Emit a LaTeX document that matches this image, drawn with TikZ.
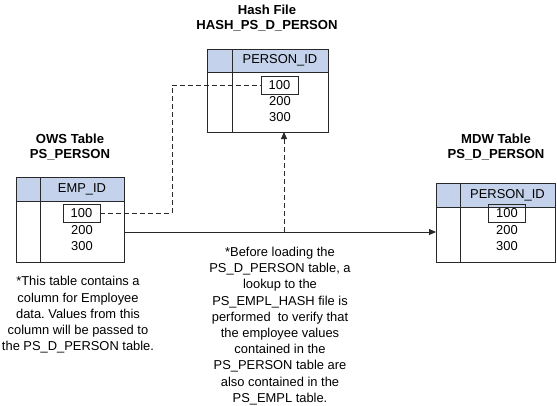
\documentclass[tikz,border=0pt]{standalone}
\usepackage{fontspec}
\setmainfont{Liberation Sans}
\frenchspacing
\usetikzlibrary{arrows.meta}
\definecolor{hdr}{RGB}{197,210,235}
\definecolor{ln}{RGB}{40,40,40}
\begin{document}
\begin{tikzpicture}[x=1pt,y=-1pt,
  every node/.style={font=\fontsize{12.9}{16.2}\selectfont, inner sep=0pt},
  ttl/.style={font=\fontsize{13.1}{15.5}\selectfont\bfseries, align=center},
  note/.style={align=center},
  frame/.style={draw=ln, line width=0.9pt},
  valbox/.style={draw=ln, line width=0.9pt, minimum width=37pt, minimum height=18pt},
  conn/.style={ln, line width=0.9pt},
  dconn/.style={ln, line width=0.9pt, dash pattern=on 5pt off 3pt},
  tip/.style={-{Triangle[length=7pt,width=6pt]}}
]
\useasboundingbox (0,0) rectangle (557,405);

% ---------- OWS table
\fill[hdr] (16,177) rectangle (124,201);
\draw[frame] (16,177) rectangle (124,262);
\draw[frame] (16,201) -- (124,201);
\draw[frame] (40,177) -- (40,262);
\node (owsT) [ttl] at (70,147) {OWS Table\\PS\_PERSON};
\node (owsH) at (82,189) {EMP\_ID};
\node (ows1) [valbox] at (81.5,213) {100};
\node (ows2) at (82,230) {200};
\node (ows3) at (82,246) {300};
\coordinate (owsE) at (124,232);

% ---------- Hash table
\fill[hdr] (207,49) rectangle (328,72);
\draw[frame] (207,49) rectangle (328,132);
\draw[frame] (207,72) -- (328,72);
\draw[frame] (232,49) -- (232,132);
\node (hT) [ttl] at (267,18) {Hash File\\HASH\_PS\_D\_PERSON};
\node (hH) at (280,60) {PERSON\_ID};
\node (h1) [valbox] at (279.5,85) {100};
\node (h2) at (280,101.5) {200};
\node (h3) at (280,117) {300};
\coordinate (hB) at (284,132);

% ---------- MDW table
\fill[hdr] (436,183) rectangle (555,207);
\draw[frame] (436,183) rectangle (555,262);
\draw[frame] (436,207) -- (555,207);
\draw[frame] (460,183) -- (460,262);
\node (mT) [ttl] at (496,147) {MDW Table\\PS\_D\_PERSON};
\node (mH) at (507.5,195) {PERSON\_ID};
\node (m1) [valbox] at (507,213) {100};
\node (m2) at (507,230) {200};
\node (m3) at (507,246) {300};
\coordinate (mW) at (436,232);

% ---------- connectors
\coordinate (split) at (284,232);
\coordinate (bend1) at (172,213);
\coordinate (bend2) at (172,85);
\draw[conn,tip] (owsE) -- (mW);
\draw[dconn,tip] (split) -- (hB);
\draw[dconn] (ows1.east) -- (bend1) -- (bend2) -- (h1.west);

% ---------- notes
\node (n1) [note] at (78,315) {*This table contains a\\column for Employee\\data. Values from this\\column will be passed to\\the PS\_D\_PERSON table.};
\node (n2) [note] at (280,326) {*Before loading the\\PS\_D\_PERSON table, a\\lookup to the\\PS\_EMPL\_HASH file is\\performed\ \ to verify that\\the employee values\\contained in the\\PS\_PERSON table are\\also contained in the\\PS\_EMPL table.};
\end{tikzpicture}
\end{document}
